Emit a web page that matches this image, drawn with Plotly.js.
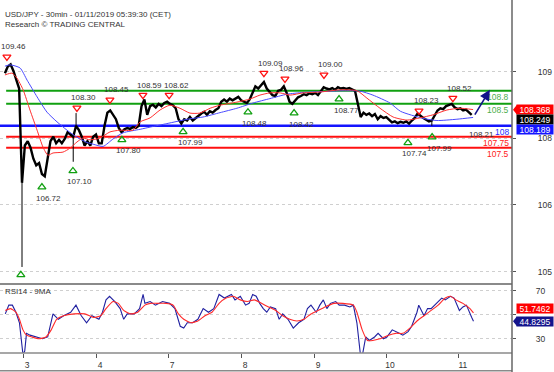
<!DOCTYPE html>
<html><head><meta charset="utf-8">
<script src="https://cdn.plot.ly/plotly-3.0.1.min.js"></script>
<style>html,body{margin:0;padding:0;background:#fff}#chart{width:554px;height:372px}</style>
</head><body><div id="chart"></div>
<script>
// ---------- DATA ----------
const titleLine1 = 'USD/JPY - 30min - 01/11/2019 05:39:30 (CET)';
const titleLine2 = 'Research © TRADING CENTRAL';
const rsiTitle = 'RSI14 - 9MA';

// day axis (bar-index positions of session starts)
const dayTickIdx = [0.35, 26.0, 51.3, 77.0, 102.6, 127.9, 153.5];
const dayLabels = ['3', '4', '7', '8', '9', '10', '11'];

// price axis ticks as printed on the original chart
const priceTickVals = [109.227, 107.71, 106.194, 104.666];
const priceTickText = ['109', '108', '106', '105'];

// closing prices, one per bar, first bar index = -6
const firstBar = -6;
const closes = [
  109.20, 109.35, 109.40, 109.25, 109.05, 108.85,
  106.70,
  107.55, 107.65, 107.50, 107.25, 107.10, 107.15, 106.90, 106.85, 107.30,
  107.65, 107.75, 107.60, 107.68, 107.60, 107.70, 107.85, 107.80, 107.75, 108.00,
  107.90, 107.75, 107.55, 107.65, 107.55, 107.75, 107.80, 107.60, 107.60, 108.00,
  108.30, 108.35, 108.25, 108.15, 107.95, 107.85, 107.92, 107.95, 107.93, 107.97,
  107.95, 108.00, 108.45, 108.60, 108.25, 108.45, 108.48, 108.42, 108.50, 108.45,
  108.52, 108.55, 108.50, 108.47, 108.40, 108.15, 108.05, 108.15, 108.12, 108.20,
  108.12, 108.18, 108.22, 108.28, 108.32, 108.25, 108.33, 108.30, 108.36, 108.40,
  108.55, 108.60, 108.55, 108.62, 108.58, 108.62, 108.66, 108.58, 108.55, 108.52,
  108.60, 108.75, 108.90, 108.85, 108.92, 109.00, 108.85, 108.78, 108.70, 108.68,
  108.80, 108.82, 108.90, 108.75, 108.55, 108.50, 108.58, 108.65, 108.68, 108.72,
  108.70, 108.74, 108.72, 108.75, 108.70, 108.78, 108.88, 108.85, 108.83, 108.86,
  108.82, 108.88, 108.85, 108.86, 108.84, 108.86, 108.83, 108.80, 108.50, 108.20,
  108.30, 108.25, 108.28, 108.22, 108.27, 108.15, 108.22, 108.18, 108.20, 108.15,
  108.08, 108.10, 108.06, 108.09, 108.07, 108.10, 108.05, 108.12, 108.18, 108.28,
  108.22, 108.18, 108.14, 108.10, 108.12, 108.25, 108.35, 108.40, 108.38, 108.45,
  108.47, 108.50, 108.42, 108.38, 108.40, 108.35, 108.37, 108.30, 108.25
];

// notable wicks (bar index, low, high)
const wickIdx  = [0, 18, 19, 144];
const wickLow  = [104.78, 107.18, 108.00, 108.00];
const wickHigh = [106.70, 107.75, 108.29, 108.12];

// moving averages
const redMaIdx = [-6.0,-3.5,-1.8,0.4,2.8,5.3,7.4,9.1,10.9,14.4,16.9,19.3,21.4,23.9,27.4,30.9,34.4,39.0,41.5,45.0,48.5,52.0,55.5,59.0,62.5,66.1,69.6,75.5,80.1,83.6,87.1,90.7,94.2,98.7,104.7,111.7,117.7,121.2,125.8,130.4,135.3,139.8,144.4,149.3,153.9,158.5];
const redMaVal = [109.16,109.20,109.09,108.82,108.36,107.90,107.51,107.33,107.38,107.40,107.49,107.63,107.72,107.68,107.72,107.86,107.90,107.90,108.09,108.18,108.36,108.47,108.40,108.29,108.29,108.40,108.47,108.54,108.61,108.70,108.75,108.75,108.70,108.75,108.77,108.82,108.80,108.63,108.40,108.20,108.13,108.18,108.25,108.36,108.40,108.37];
const blueMaIdx = [-6,-4.2,-0.7,1.8,5.3,8.8,12.3,15.8,19.3,22.8,25.0,28.5,32.0,35.5,41.5,45.0,50.9,59.0,63.6,69.6,75.5,81.2,87.1,93.1,98.7,104.7,112.8,118.8,123.3,129.3,133.0,140.9,145.8,152.8,158.5];
const blueMaVal = [109.36,109.39,109.32,109.04,108.66,108.31,108.09,107.90,107.74,107.62,107.58,107.53,107.70,107.84,107.92,107.97,108.05,108.16,108.20,108.30,108.40,108.52,108.62,108.72,108.76,108.78,108.80,108.79,108.70,108.52,108.33,108.17,108.12,108.15,108.19];

// support / resistance levels
const levelValues = [108.8, 108.5, 108.0, 107.75, 107.5];
const levelLabels = ['108.8', '108.5', '108', '107.75', '107.5'];

// swing highs (red) and lows (green)
const highIdx   = [-5.3, 19.3, 30.9, 42.5, 51.7, 85.0, 92.4, 106.1, 139.5, 151.4];
const highPrice = [109.57, 108.41, 108.59, 108.70, 108.70, 109.20, 109.07, 109.16, 108.34, 108.63];
const highLabel = ['109.46','108.30','108.45','108.59','108.62','109.09','108.96','109.00','108.23','108.52'];
const lowIdx   = [-0.4, 7.0, 17.9, 35.1, 56.6, 79.4, 95.6, 111.4, 135.6, 144.1];
const lowPrice = [104.60, 106.60, 106.97, 107.68, 107.86, 108.31, 108.29, 108.61, 107.61, 107.74];
const lowLabel = ['', '106.72','107.10','107.80','107.99','108.48','108.42','108.77','107.74','107.99'];
const extraLabelIdx = [161.6];
const extraLabelPrice = [107.81];
const extraLabelText = ['108.21'];

// projection arrow
const arrowFrom = [158.8, 108.22];
const arrowTo = [164.4, 108.82];

// last values boxes
const priceBoxValues = [108.368, 108.249, 108.189];
const rsiBoxValues = [51.7462, 44.8295];

// RSI 14 and its 9-period MA
const rsiIdx = [-5.87,-4.63,-3.38,-2.14,-0.90,-0.03,0.34,0.96,1.58,2.82,4.69,7.17,9.03,10.27,10.89,12.76,14.62,17.10,18.96,20.83,22.69,24.55,27.03,28.28,29.52,30.76,32.62,34.48,35.73,36.97,39.45,41.31,42.55,43.18,45.04,46.90,49.38,51.87,53.73,55.59,56.83,58.07,59.94,61.80,63.66,65.52,67.39,69.25,71.11,73.59,74.84,76.70,78.56,79.80,81.04,82.29,83.53,84.77,86.01,87.25,89.12,90.36,91.60,93.46,95.32,97.19,99.05,100.29,101.53,103.39,104.63,105.88,107.12,108.36,110.22,111.46,113.33,115.19,116.43,117.67,118.91,119.53,120.78,122.02,123.88,125.12,126.98,128.23,130.09,132.57,133.81,135.67,136.92,138.78,139.40,141.26,142.50,143.75,145.61,147.47,148.71,150.57,151.82,153.68,154.92,156.16,158.02,158.64];
const rsiVal = [50.9,58.2,58.2,52.3,43.5,28.8,17.0,19.9,34.7,33.2,31.7,30.2,31.7,43.5,50.9,46.4,49.4,52.3,58.2,49.4,43.5,49.4,46.4,52.3,62.6,65.6,61.2,55.3,46.4,50.9,50.9,55.3,67.1,59.7,61.2,58.2,61.2,59.7,55.3,40.6,39.1,43.5,43.5,46.4,55.3,52.3,55.3,67.1,64.1,67.1,62.6,65.6,58.2,59.7,67.1,65.6,59.7,55.3,52.3,56.7,55.3,46.4,50.9,46.4,39.1,43.5,46.4,55.3,58.2,52.3,58.2,62.6,55.3,59.7,61.2,58.2,58.2,56.7,58.2,43.5,17.0,15.5,31.7,28.8,31.7,34.7,30.2,31.7,37.6,34.7,33.2,36.1,40.6,52.3,58.2,49.4,55.3,55.3,59.7,64.1,62.6,65.6,64.1,53.8,56.7,58.2,47.9,44.8];
const rsiMaIdx = [-5.87,-4.0,-2.14,-0.90,0.34,1.58,3.44,5.93,8.41,10.27,12.14,14.62,18.34,22.07,25.17,27.66,29.52,32.0,33.86,35.73,38.21,40.69,43.18,45.04,47.52,50.63,53.11,54.97,56.83,59.32,61.80,64.28,66.77,69.25,71.73,74.22,76.70,79.18,81.67,84.15,86.63,89.12,91.60,94.08,96.57,99.05,101.53,104.01,106.50,109.60,112.71,116.43,117.67,119.53,121.40,123.26,125.74,128.85,131.33,133.81,136.29,138.78,141.26,143.75,146.23,148.71,150.57,152.43,154.92,157.40,158.64];
const rsiMaVal = [53.8,55.3,52.3,46.4,37.6,33.2,31.7,30.2,31.7,37.6,46.4,49.4,50.9,50.9,47.9,49.4,55.3,61.2,59.7,53.8,50.9,52.3,58.2,59.7,59.7,59.7,58.2,50.9,46.4,43.5,45.0,49.4,52.3,59.7,64.1,65.6,62.6,61.2,62.6,59.7,56.7,53.8,49.4,46.4,45.0,46.4,50.9,53.8,56.7,59.7,59.7,58.2,52.3,37.6,28.8,28.8,30.2,33.2,34.7,34.7,39.1,45.0,49.4,53.8,58.2,64.1,65.6,62.6,59.7,55.3,51.7];

// ---------- STYLE ----------
const FONT = 'Liberation Sans, Arial, sans-serif';
const GREEN = '#10a010', RED = '#ff1010', BLUE = '#1414ff';
const levelLineColors = [GREEN, GREEN, BLUE, RED, RED];
const levelTextColors = ['#4cae4c', '#4cae4c', '#2a2aff', '#ff2020', '#ff2020'];
const levelWidths = [2, 2, 2.5, 2, 2];
const levelStart = [0.012, 0.012, 0, 0.012, 0.012];

const barIdx = closes.map((_, k) => firstBar + k);

const wickX = [], wickY = [];
wickIdx.forEach((x, k) => { wickX.push(x, x, null); wickY.push(wickLow[k], wickHigh[k], null); });

const traces = [
  {x: wickX, y: wickY, mode: 'lines', line: {color: '#000', width: 1}, xaxis: 'x', yaxis: 'y', hoverinfo: 'skip'},
  {x: barIdx, y: closes, mode: 'lines', line: {color: '#000', width: 2.4}, xaxis: 'x', yaxis: 'y'},
  {x: blueMaIdx, y: blueMaVal, mode: 'lines', line: {color: '#4a4aff', width: 1, shape: 'spline', smoothing: 0.6}, xaxis: 'x', yaxis: 'y'},
  {x: redMaIdx, y: redMaVal, mode: 'lines', line: {color: '#ff3030', width: 1, shape: 'spline', smoothing: 0.6}, xaxis: 'x', yaxis: 'y'},
  {x: highIdx, y: highPrice, mode: 'markers', marker: {symbol: 'triangle-down-open', size: 7, color: RED, line: {width: 1.3}}, xaxis: 'x', yaxis: 'y'},
  {x: lowIdx, y: lowPrice, mode: 'markers', marker: {symbol: 'triangle-up-open', size: 7, color: '#10a010', line: {width: 1.3}}, xaxis: 'x', yaxis: 'y'},
  {x: rsiIdx, y: rsiVal, mode: 'lines', line: {color: '#2020a0', width: 1.1}, xaxis: 'x', yaxis: 'y2'},
  {x: rsiMaIdx, y: rsiMaVal, mode: 'lines', line: {color: '#ff2a2a', width: 1.1, shape: 'spline', smoothing: 0.5}, xaxis: 'x', yaxis: 'y2'}
];

const shapes = [];
levelValues.forEach((v, k) => shapes.push({type: 'line', xref: 'paper', yref: 'y', x0: levelStart[k], x1: 1, y0: v, y1: v, line: {color: levelLineColors[k], width: levelWidths[k]}, layer: 'below'}));
// frame lines
shapes.push({type: 'line', xref: 'paper', yref: 'paper', x0: 0, x1: 1, y0: 0.1955, y1: 0.1955, line: {color: '#8a8a8a', width: 2}});
shapes.push({type: 'line', xref: 'paper', yref: 'paper', x0: 0, x1: 1, y0: 0, y1: 0, line: {color: '#8a8a8a', width: 1.5}});
shapes.push({type: 'line', xref: 'paper', yref: 'paper', x0: 0, x1: 1, y0: -0.05, y1: -0.05, line: {color: '#8a8a8a', width: 1.5}});
shapes.push({type: 'line', xref: 'paper', yref: 'paper', x0: 1, x1: 1, y0: -0.06, y1: 1, line: {color: '#666', width: 1.5}});
// pointers of value boxes
shapes.push({type: 'path', xref: 'paper', xsizemode: 'pixel', xanchor: 1, yref: 'y', ysizemode: 'pixel', yanchor: priceBoxValues[0], path: 'M1,0 L5,5 L5,-5 Z', fillcolor: '#ff0000', line: {width: 0}});
shapes.push({type: 'path', xref: 'paper', xsizemode: 'pixel', xanchor: 1, yref: 'y2', ysizemode: 'pixel', yanchor: rsiBoxValues[1], path: 'M1,0 L5,5 L5,-5 Z', fillcolor: '#14148c', line: {width: 0}});

const annotations = [];
const lblFont = {family: FONT, size: 8, color: '#333'};
highIdx.forEach((x, k) => { if (highLabel[k]) annotations.push({x: x, y: highPrice[k], xref: 'x', yref: 'y', text: highLabel[k], showarrow: false, xshift: 7, yshift: 10, font: lblFont}); });
lowIdx.forEach((x, k) => { if (lowLabel[k]) annotations.push({x: x, y: lowPrice[k], xref: 'x', yref: 'y', text: lowLabel[k], showarrow: false, xshift: 7, yshift: -11, font: lblFont}); });
extraLabelIdx.forEach((x, k) => annotations.push({x: x, y: extraLabelPrice[k], xref: 'x', yref: 'y', text: extraLabelText[k], showarrow: false, font: lblFont}));
levelValues.forEach((v, k) => annotations.push({x: 1, y: v, xref: 'paper', yref: 'y', text: levelLabels[k], showarrow: false, xanchor: 'right', yanchor: 'top', xshift: -1, yshift: 1, font: {family: FONT, size: 8.5, color: levelTextColors[k]}}));
// arrow
annotations.push({x: arrowTo[0], y: arrowTo[1], ax: arrowFrom[0], ay: arrowFrom[1], xref: 'x', yref: 'y', axref: 'x', ayref: 'y', showarrow: true, arrowhead: 2, arrowsize: 1.3, arrowwidth: 1.6, arrowcolor: '#12128a', text: ''});
// value boxes
const boxColors = ['#ff0000', '#000000', '#1414ff'];
priceBoxValues.forEach((v, k) => annotations.push({x: 1, y: priceBoxValues[0], xref: 'paper', yref: 'y', text: v.toFixed(3), showarrow: false, xanchor: 'left', xshift: 4, yshift: -10 * k, width: 36, height: 9, borderpad: 0, bgcolor: boxColors[k], font: {family: FONT, size: 8.5, color: '#fff'}}));
const rsiBoxColors = ['#ff0000', '#14148c'];
const rsiBoxShift = [4, 0];
rsiBoxValues.forEach((v, k) => annotations.push({x: 1, y: v, xref: 'paper', yref: 'y2', text: v.toFixed(4), showarrow: false, xanchor: 'left', xshift: 4, yshift: rsiBoxShift[k], width: 36, height: 9, borderpad: 0, bgcolor: rsiBoxColors[k], font: {family: FONT, size: 8.5, color: '#fff'}}));
// titles
annotations.push({x: 0, y: 1, xref: 'paper', yref: 'paper', xanchor: 'left', yanchor: 'top', xshift: 3, yshift: -8, text: titleLine1, showarrow: false, font: {family: FONT, size: 8, color: '#333'}});
annotations.push({x: 0, y: 1, xref: 'paper', yref: 'paper', xanchor: 'left', yanchor: 'top', xshift: 3, yshift: -18, text: titleLine2, showarrow: false, font: {family: FONT, size: 8, color: '#333'}});
annotations.push({x: 0, y: 0.1955, xref: 'paper', yref: 'paper', xanchor: 'left', yanchor: 'top', xshift: 3, yshift: -1, text: rsiTitle, showarrow: false, font: {family: FONT, size: 8, color: '#333'}});

const layout = {
  width: 554, height: 372,
  margin: {l: 0, r: 42, t: 0, b: 19, pad: 0},
  paper_bgcolor: '#fff', plot_bgcolor: '#fff',
  showlegend: false,
  font: {family: FONT, size: 8, color: '#333'},
  xaxis: {range: [-7.73, 172.17], domain: [0, 1], anchor: 'y2', tickvals: dayTickIdx, ticktext: dayLabels,
          ticks: 'outside', ticklen: 4, tickcolor: '#555', tickwidth: 1, showgrid: false, zeroline: false, showline: false,
          tickfont: {family: FONT, size: 8.5, color: '#333'}, ticklabelshift: 4},
  yaxis: {domain: [0.1955, 1], range: [104.392, 110.869], side: 'right', anchor: 'x', tickvals: priceTickVals, ticktext: priceTickText,
          ticks: 'outside', ticklen: 3, tickcolor: '#555', showline: false, showgrid: true, gridcolor: '#cfcfcf', griddash: 'dot',
          zeroline: false, tickfont: {family: FONT, size: 8.5, color: '#333'}, ticklabelstandoff: 20},
  yaxis2: {domain: [0, 0.1955], range: [18.33, 75.83], side: 'right', anchor: 'x', tickvals: [30, 50, 70], ticktext: ['30', '', '70'],
          ticks: 'outside', ticklen: 3, tickcolor: '#555', showline: false, showgrid: true, gridcolor: '#cfcfcf', griddash: 'dot',
          zeroline: false, tickfont: {family: FONT, size: 8.5, color: '#333'}, ticklabelstandoff: 18},
  shapes: shapes,
  annotations: annotations
};

Plotly.newPlot('chart', traces, layout, {displayModeBar: false, staticPlot: true});
</script></body></html>
